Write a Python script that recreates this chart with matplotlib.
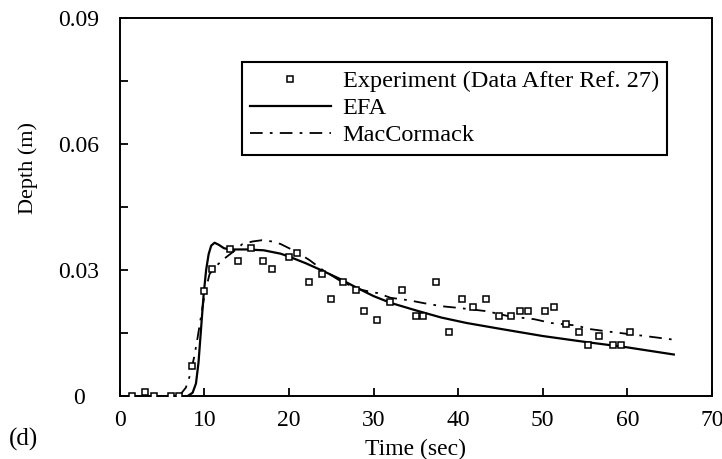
import numpy as np
import matplotlib.pyplot as plt

# experiment (data after ref. 27)
t_exp = [1.4, 3.0, 4.0, 6.0, 7.0, 8.5, 9.9, 10.9, 13.0, 14.0, 15.5, 16.9, 18.0,
         20.0, 20.9, 22.4, 23.9, 25.0, 26.4, 27.9, 28.9, 30.4, 31.9, 33.4, 35.0,
         35.9, 37.4, 38.9, 40.4, 41.8, 43.3, 44.8, 46.3, 47.3, 48.3, 50.3, 51.3,
         52.8, 54.3, 55.3, 56.7, 58.3, 59.3, 60.3]
d_exp = [0.0, 0.001, 0.0, 0.0, 0.0, 0.0072, 0.0251, 0.0302, 0.0351, 0.0321,
         0.0352, 0.0321, 0.0302, 0.0331, 0.0341, 0.0271, 0.0291, 0.0231, 0.0271,
         0.0252, 0.0202, 0.0182, 0.0224, 0.0252, 0.019, 0.019, 0.0271, 0.0152,
         0.0232, 0.0211, 0.0232, 0.0191, 0.0191, 0.0202, 0.0202, 0.0202, 0.0211,
         0.0171, 0.0152, 0.0121, 0.0143, 0.0122, 0.0122, 0.0152]

# EFA
t_efa = [0, 8.0, 8.6, 9.0, 9.3, 9.6, 9.9, 10.2, 10.5, 10.8, 11.2, 11.7, 12.3, 13,
         15, 17, 19, 20, 22, 24, 26, 28, 30, 32, 35, 38, 41, 45, 50, 55, 60, 65.5]
d_efa = [0, 0, 0.0008, 0.003, 0.008, 0.016, 0.024, 0.030, 0.0338, 0.0358, 0.0365,
         0.0360, 0.0352, 0.0349, 0.0349, 0.0347, 0.0339, 0.0332, 0.0316, 0.0298,
         0.0279, 0.0258, 0.0238, 0.0222, 0.0204, 0.0187, 0.0174, 0.0160, 0.0143,
         0.0129, 0.0116, 0.0099]

# MacCormack
t_mac = [0, 7.0, 7.8, 8.3, 8.8, 9.2, 9.6, 10.0, 10.6, 11.4, 12.4, 13.5, 14.5, 15.7,
         16.8, 18.0, 19.0, 20.8, 22.4, 24, 26, 28, 29, 30.5, 32, 34.2, 36, 38, 40,
         43.4, 46, 49, 51, 54, 55.4, 58, 61.7, 65.6]
d_mac = [0, 0, 0.002, 0.005, 0.0094, 0.014, 0.019, 0.024, 0.029, 0.031, 0.0328,
         0.0345, 0.0362, 0.0368, 0.0371, 0.0368, 0.0362, 0.0344, 0.0324, 0.0300,
         0.0275, 0.0256, 0.0251, 0.0245, 0.0234, 0.0228, 0.0221, 0.0214, 0.0210,
         0.0202, 0.0190, 0.0183, 0.0174, 0.0168, 0.0160, 0.0153, 0.0144, 0.0134]

x_ticks = [0, 10, 20, 30, 40, 50, 60, 70]
y_ticks = [0, 0.03, 0.06, 0.09]
y_labels = ['0', '0.03', '0.06', '0.09']

plt.rcParams['font.family'] = ['Liberation Serif', 'DejaVu Serif']

fig = plt.figure(figsize=(7.22, 4.59), dpi=100)
ax = fig.add_axes([0.166, 0.137, 0.82, 0.824])

ax.plot(t_exp, d_exp, 's', ms=4.3, mfc='white', mec='black', mew=1.1,
        label='Experiment (Data After Ref. 27)', zorder=3)
ax.plot(t_efa, d_efa, '-', color='black', lw=1.6, label='EFA')
ax.plot(t_mac, d_mac, color='black', lw=1.3, dashes=(7, 4, 1.5, 4),
        label='MacCormack')

ax.set_xlim(0, 70)
ax.set_ylim(0, 0.09)
ax.set_xticks(x_ticks)
ax.set_yticks(y_ticks)
ax.set_yticklabels(y_labels)
ax.set_yticks([0.015, 0.045, 0.075], minor=True)
ax.tick_params(direction='in', labelsize=17, length=6, width=1.3)
ax.tick_params(which='minor', direction='in', length=6, width=1.3)
ax.tick_params(axis='x', pad=10)
ax.tick_params(axis='y', pad=29.5)
for lab in ax.get_yticklabels():
    lab.set_horizontalalignment('center')
for s in ax.spines.values():
    s.set_linewidth(1.4)

ax.set_xlabel('Time (sec)', fontsize=17)
ax.xaxis.set_label_coords(0.5, -0.112)
ax.set_ylabel('Depth (m)', fontsize=16)
ax.yaxis.set_label_coords(-0.1385, 0.603)
fig.text(0.012, 0.03, '(d)', fontsize=18)

leg = ax.legend(loc='upper left', bbox_to_anchor=(0.206, 0.884), fontsize=17.5,
                handlelength=3.3, handletextpad=0.5, borderpad=0.35,
                labelspacing=0.2, fancybox=False, framealpha=1,
                edgecolor='black', borderaxespad=0)
leg.get_frame().set_linewidth(1.5)

fig.savefig('out.png', dpi=100)
